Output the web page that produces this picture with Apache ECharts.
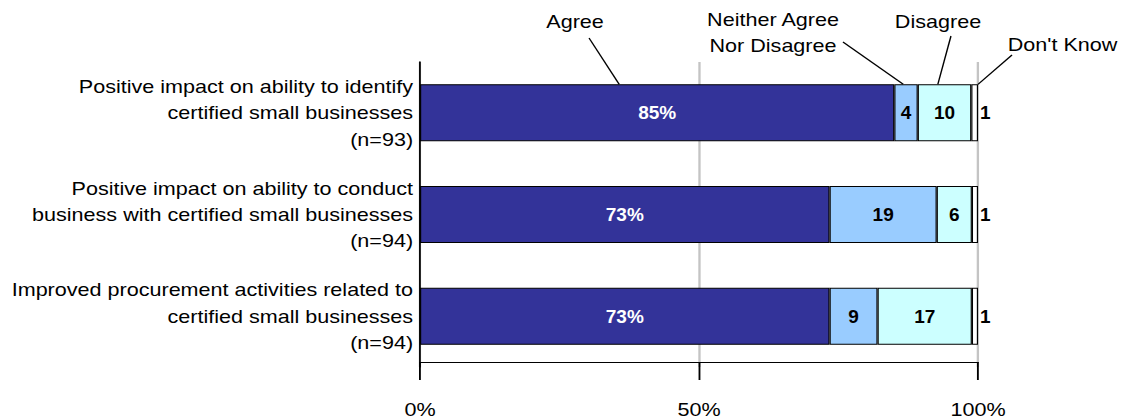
<!DOCTYPE html>
<html><head><meta charset="utf-8">
<script src="https://cdn.jsdelivr.net/npm/echarts@6/dist/echarts.min.js"></script>
<style>
html,body{margin:0;padding:0;overflow:hidden;background:#fff}
#wrap{width:1121px;height:419px;overflow:hidden;position:relative}
#c{position:absolute;left:0;top:0;width:966.4px;height:419px;transform:scaleX(1.16);transform-origin:0 0}
#o{position:absolute;left:0;top:0;width:1121px;height:419px}
</style>
</head><body><div id="wrap"><div id="c"></div><div id="o"></div></div>
<script>
// ---- data ----
const categories = [
  'Positive impact on ability to identify\ncertified small businesses\n(n=93)',
  'Positive impact on ability to conduct\nbusiness with certified small businesses\n(n=94)',
  'Improved procurement activities related to\ncertified small businesses\n(n=94)'
];
const seriesNames = ['Agree', 'Neither Agree\nNor Disagree', 'Disagree', "Don't Know"];
const agree    = [85.0, 73.4, 73.4];
const neither  = [4.2, 19.2, 8.6];
const disagree = [9.6, 6.3, 16.9];
const dontKnow = [1.2, 1.1, 1.1];
const xTickValues = [0, 50, 100];
// where each callout line touches the top bar (in % of the axis)
const calloutAnchors = [35.7, 86.6, 92.8, 100];

// ---- chart ----
const FONT = '"Liberation Sans", Arial, Helvetica, sans-serif';
const BAR_W = 57;
const colors = ['#333399', '#99CCFF', '#CCFFFF', '#FFFFFF'];
const vals = [agree, neither, disagree, dontKnow];

// main (horizontally stretched) chart: bars, axes, category labels, callouts
const chart = echarts.init(document.getElementById('c'), null, {renderer: 'svg', width: 966.4, height: 419});
chart.setOption({
  animation: false,
  grid: {left: 362.1, right: 123.3, top: 62, height: 305, containLabel: false, outerBoundsMode: 'none'},
  xAxis: {
    type: 'value', min: xTickValues[0], max: xTickValues[xTickValues.length - 1],
    interval: xTickValues[1] - xTickValues[0], offset: -5,
    axisLine: {show: true, lineStyle: {color: '#000', width: 1.2}},
    axisTick: {show: true, length: 18, lineStyle: {color: '#000', width: 1.6}},
    axisLabel: {formatter: v => v + '%', fontFamily: FONT, fontSize: 18.6, lineHeight: 16, color: '#000', margin: 40},
    splitLine: {show: true, lineStyle: {color: '#c4c4c4', width: 2}}
  },
  yAxis: {
    type: 'category', data: categories, inverse: true,
    axisLine: {show: true, lineStyle: {color: '#000', width: 1.5}},
    axisTick: {show: false},
    axisLabel: {fontFamily: FONT, fontSize: 18.6, color: '#000', lineHeight: 26.3, margin: 6,
      align: 'right', padding: [12, 0, 0, 0]}
  },
  series: vals.map((d, i) => ({
    name: seriesNames[i], type: 'bar', stack: 'all', data: d, barWidth: BAR_W,
    itemStyle: {color: colors[i], borderColor: '#000', borderWidth: 1},
    label: {show: false}, emphasis: {disabled: true}
  }))
});

// overlay (unstretched) chart: only the value labels, on the same scales
const over = echarts.init(document.getElementById('o'), null, {renderer: 'svg', width: 1121, height: 419});
function lbl(color, fmt, pos) {
  return {
    show: true, position: pos || 'inside', distance: 2,
    fontFamily: FONT, fontWeight: 'bold', fontSize: 19, color: color,
    formatter: p => fmt(Math.round(p.value))
  };
}
over.setOption({
  animation: false,
  grid: {left: 420, right: 143, top: 62, height: 305, containLabel: false, outerBoundsMode: 'none'},
  xAxis: {type: 'value', min: 0, max: 100, show: false},
  yAxis: {type: 'category', data: categories, inverse: true, show: false},
  series: vals.map((d, i) => ({
    name: seriesNames[i], type: 'bar', stack: 'all', data: d, barWidth: BAR_W,
    itemStyle: {color: 'rgba(0,0,0,0)', borderWidth: 0},
    label: i === 0 ? lbl('#fff', v => v + '%') : (i === 3 ? lbl('#000', v => '' + v, 'right') : lbl('#000', v => '' + v)),
    emphasis: {disabled: true}, silent: true
  }))
});

// ---- callouts anchored to the first bar ----
const topY = chart.convertToPixel({yAxisIndex: 0}, 0) - BAR_W / 2;
const ax = calloutAnchors.map(v => chart.convertToPixel({xAxisIndex: 0}, v));
const starts = [[507.8, 38], [726.7, 42], [819.8, 36], [872.4, 55]];
const textPos = [[495.7, 22], [666.4, 33], [808.6, 22], [916, 45]];
const g = [];
seriesNames.forEach((n, i) => {
  g.push({type: 'line', silent: true,
    shape: {x1: starts[i][0], y1: starts[i][1], x2: ax[i], y2: topY},
    style: {stroke: '#000', lineWidth: 1.2}});
  g.push({type: 'text', silent: true, x: textPos[i][0], y: textPos[i][1],
    style: {text: n, fontFamily: FONT, fontSize: 18.6, lineHeight: 26, fill: '#000',
      align: 'center', verticalAlign: 'middle'}});
});
chart.setOption({graphic: g});
</script>
</body></html>
